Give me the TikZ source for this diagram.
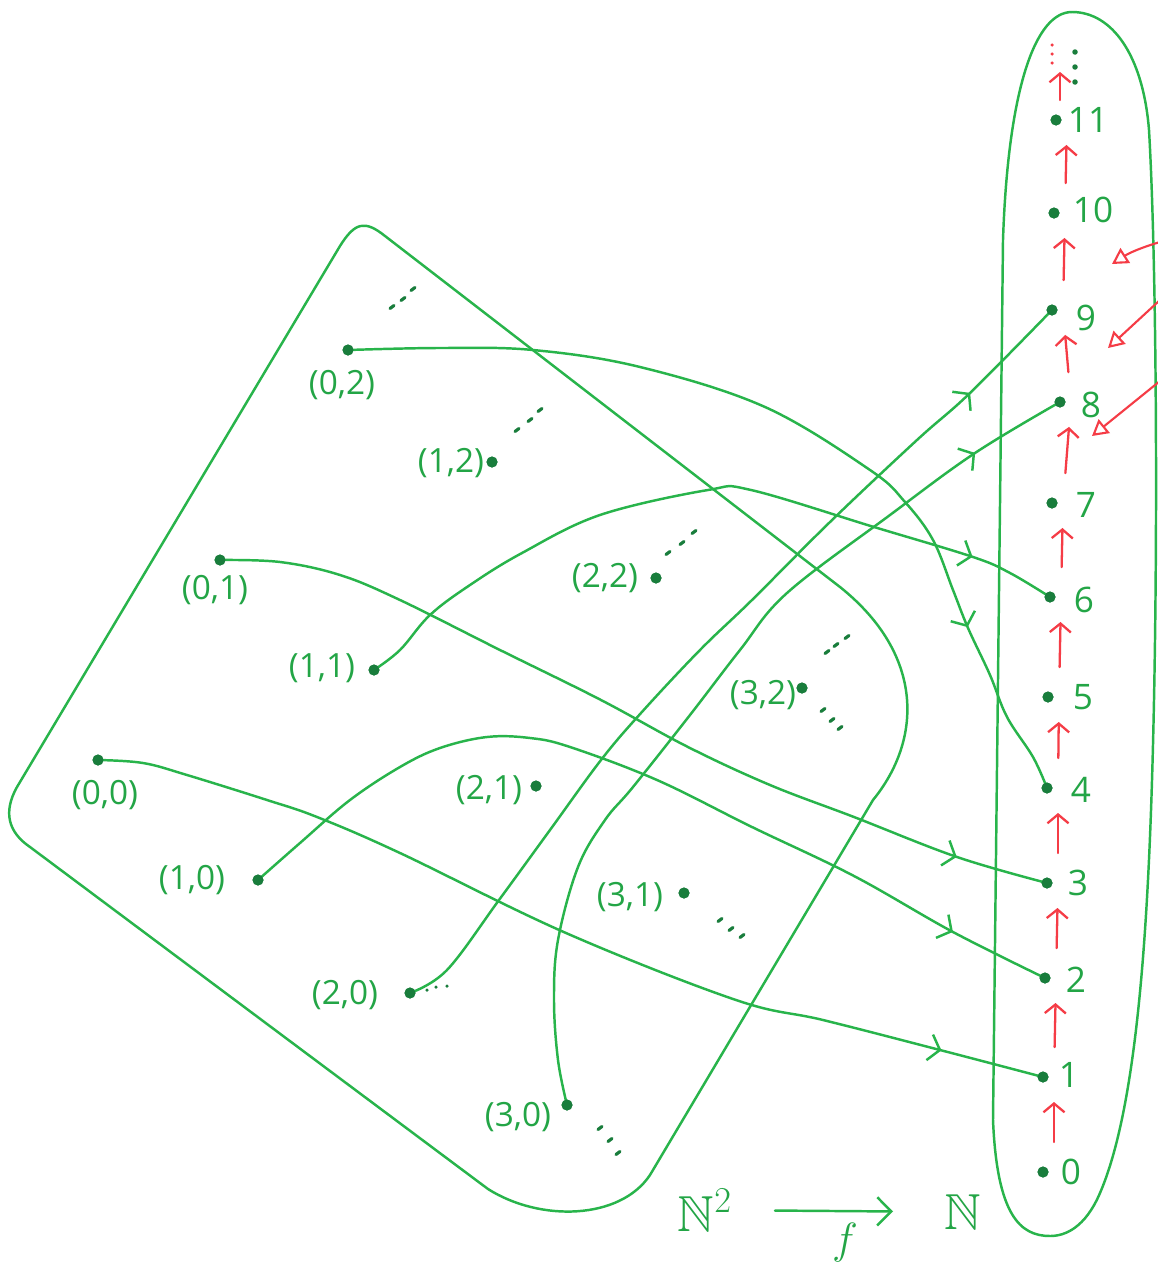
\documentclass[tikz,border=0pt]{standalone}
\usepackage{amssymb}
\usepackage{fontspec}
\setsansfont{Open Sans}
\usetikzlibrary{arrows.meta,decorations.markings}
\definecolor{gline}{RGB}{40,180,75}
\definecolor{gdot}{RGB}{25,125,60}
\definecolor{gtext}{RGB}{35,165,70}
\definecolor{rline}{RGB}{245,60,70}
\begin{document}
\begin{tikzpicture}[x=0.02cm,y=-0.02cm,
  region/.style={gline, line width=1.4pt, line cap=round, line join=round},
  conn/.style={gline, line width=1.4pt, line cap=round, line join=round},
  pt/.style={circle, fill=gdot, inner sep=0pt, minimum size=0.22cm},
  lbl/.style={text=gtext, font=\sffamily\fontsize{19}{19}\selectfont, inner sep=1pt},
  num/.style={text=gtext, font=\sffamily\fontsize{20}{20}\selectfont, inner sep=1pt},
  midarrow/.style={postaction={decorate, decoration={markings,
      mark=at position #1 with {\arrow{Straight Barb[length=6pt,width=15pt]}}}}},
  upar/.style={rline, line width=1.3pt, line cap=round, -{Straight Barb[length=5pt,width=12pt]}},
  sidear/.style={rline, line width=1.2pt, line cap=round, -{Triangle[open,length=9pt,width=10pt]}},
  ellip/.style={gdot, line width=1.8pt, line cap=round}
]
\useasboundingbox (0,0) rectangle (1158,1265);
\fill[white] (0,0) rectangle (1158,1265);

% region N^2
\draw[region] (17,787) -- (340,246) .. controls (355,222) and (365,220) .. (385,236)
  -- (840,587) .. controls (925,655) and (922,740) .. (873,800)
  -- (650,1175) .. controls (620,1220) and (540,1222) .. (488,1189)
  -- (30,847) .. controls (8,832) and (3,812) .. cycle;

% region N
\draw[region] (993,1120) -- (1003,240) .. controls (1008,90) and (1035,12) .. (1072,12)
  .. controls (1112,12) and (1143,55) .. (1149,130)
  .. controls (1156,250) and (1158,500) .. (1154,700)
  .. controls (1150,900) and (1140,1100) .. (1100,1193)
  .. controls (1085,1228) and (1065,1236) .. (1050,1236)
  .. controls (1020,1236) and (997,1215) .. cycle;

% points of N^2
\node[pt] (d02) at (348,350) {};
\node[pt] (d12) at (492,462) {};
\node[pt] (d01) at (220,560) {};
\node[pt] (d11) at (374,670) {};
\node[pt] (d22) at (656,578) {};
\node[pt] (d00) at (98,760) {};
\node[pt] (d21) at (536,786) {};
\node[pt] (d10) at (258,880) {};
\node[pt] (d32) at (802,688) {};
\node[pt] (d31) at (684,893) {};
\node[pt] (d20) at (410,993) {};
\node[pt] (d30) at (567,1105) {};

\node[lbl] (l02) at (342,385) {(0,2)};
\node[lbl] (l12) at (451,463) {(1,2)};
\node[lbl] (l01) at (215,590) {(0,1)};
\node[lbl] (l11) at (322,668) {(1,1)};
\node[lbl] (l22) at (605,578) {(2,2)};
\node[lbl] (l00) at (105,795) {(0,0)};
\node[lbl] (l21) at (489,790) {(2,1)};
\node[lbl] (l10) at (192,880) {(1,0)};
\node[lbl] (l32) at (763,695) {(3,2)};
\node[lbl] (l31) at (630,897) {(3,1)};
\node[lbl] (l20) at (345,995) {(2,0)};
\node[lbl] (l30) at (518,1117) {(3,0)};

% ellipsis dashes
\foreach \x/\y in {392/307,403/299,413/289, 517/430,530/420,540/410, 668/553,682/543,694/532,
                   827/652,836/645,847/637, 823/710,832/720,840/728, 720/920,731/929,742/936,
                   600/1128,610/1140,618/1153}
  \draw[ellip] (\x-2,\y+1.5) -- (\x+2,\y-1.5);
\foreach \x/\y in {427/990,436/987,447/986}
  \fill[gdot] (\x,\y) circle (0.035cm);

% points of N
\node[pt] (n0) at (1043,1172) {};
\node[pt] (n1) at (1043,1077) {};
\node[pt] (n2) at (1045,978) {};
\node[pt] (n3) at (1047,883) {};
\node[pt] (n4) at (1047,788) {};
\node[pt] (n5) at (1048,697) {};
\node[pt] (n6) at (1050,597) {};
\node[pt] (n7) at (1052,503) {};
\node[pt] (n8) at (1060,402) {};
\node[pt] (n9) at (1052,310) {};
\node[pt] (n10) at (1054,213) {};
\node[pt] (n11) at (1056,120) {};

\node[num] (t0) at (1071,1172) {0};
\node[num] (t1) at (1069,1075) {1};
\node[num] (t2) at (1076,980) {2};
\node[num] (t3) at (1078,883) {3};
\node[num] (t4) at (1081,790) {4};
\node[num] (t5) at (1083,697) {5};
\node[num] (t6) at (1084,600) {6};
\node[num] (t7) at (1086,505) {7};
\node[num] (t8) at (1091,405) {8};
\node[num] (t9) at (1086,318) {9};
\node[num] (t10) at (1093,210) {10};
\node[num] (t11) at (1088,120) {11};

% top ellipses in N
\foreach \y in {52,67,82} \fill[gdot] (1075,\y) circle (0.055cm);
\foreach \y in {45,54,63} \fill[rline] (1052,\y) circle (0.035cm);

% successor arrows
\foreach \a/\b in {0/1,1/2,2/3,3/4,4/5,5/6,6/7,7/8,8/9,9/10,10/11}
  \draw[upar, shorten <=0.6cm, shorten >=0.5cm] ([xshift=0.22cm]n\a.center) -- ([xshift=0.22cm]n\b.center);
\coordinate (ntop) at (1060,72);
\draw[upar] ([shift={(4,-20)}]n11.center) -- (ntop);

% side arrows
\coordinate (s1) at (1160,242);
\coordinate (e1) at (1112,264);
\coordinate (s2) at (1160,300);
\coordinate (e2) at (1108,348);
\coordinate (s3) at (1160,381);
\coordinate (e3) at (1092,436);
\draw[sidear] (s1) to[bend right=8] (e1);
\draw[sidear] (s2) -- (e2);
\draw[sidear] (s3) -- (e3);

% connectors
\draw[conn, midarrow=-2.1cm] plot[smooth, tension=0.6] coordinates {(d00) (143,763) (187,775) (267,800) (317,817) (400,853) (566,933) (736,1000) (823,1020) (940,1050) (n1)};
\draw[conn, midarrow=-2.06cm] plot[smooth, tension=0.6] coordinates {(d10) (300,843) (350,800) (400,767) (440,748) (487,737) (530,738) (570,747) (657,780) (752,827) (854,876) (953,932) (n2)};
\draw[conn, midarrow=-1.88cm] plot[smooth, tension=0.6] coordinates {(d01) (280,562) (340,575) (400,600) (500,650) (601,700) (688,747) (770,785) (854,817) (957,857) (n3)};
\draw[conn, midarrow=-3.6cm] plot[smooth, tension=0.6] coordinates {(d02) (440,348) (533,350) (640,367) (765,407) (870,470) (905,502) (933,540) (953,590) (968,628) (990,675) (1007,717) (1033,757) (n4)};
\draw[conn, midarrow=-1.75cm] plot[smooth, tension=0.6] coordinates {(d11) (400,650) (430,615) (470,585) (522,553) (600,515) (708,490) (751,490) (874,527) (973,557) (1010,573) (n6)};
\draw[conn, midarrow=-2.33cm] plot[smooth, tension=0.6] coordinates {(d20) (447,970) (499,900) (550,830) (601,760) (641,713) (700,650) (752,600) (830,522) (917,440) (970,393) (n9)};
\draw[conn, midarrow=-1.98cm] plot[smooth, tension=0.6] coordinates {(d30) (558,1060) (554,1000) (558,940) (578,867) (605,820) (633,787) (690,715) (740,650) (787,593) (890,515) (975,453) (n8)};

% redraw dots on top
\foreach \n in {d02,d12,d01,d11,d22,d00,d21,d10,d32,d31,d20,d30,n0,n1,n2,n3,n4,n5,n6,n7,n8,n9,n10,n11}
  \fill[gdot] (\n.center) circle (0.11cm);

% bottom caption
\node[text=gtext, font=\fontsize{24}{24}\selectfont, scale=1.2] (N2) at (705,1210) {$\mathbb{N}^2$};
\node[text=gtext, font=\fontsize{24}{24}\selectfont, scale=1.2] (N) at (963,1212) {$\mathbb{N}$};
\draw[conn, shorten <=1.4cm, shorten >=1.4cm, -{Straight Barb[length=8pt,width=16pt]}] (N2.center) -- (N.center);
\node[text=gtext, font=\fontsize{24}{24}\selectfont] (f) at (845,1243) {$f$};
\end{tikzpicture}
\end{document}
